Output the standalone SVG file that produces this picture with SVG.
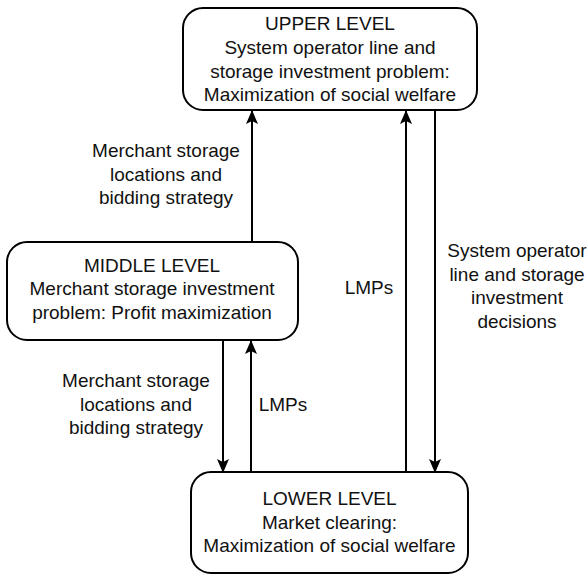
<svg xmlns="http://www.w3.org/2000/svg" width="588" height="575" viewBox="0 0 588 575">
<style>
.box{fill:#fff;stroke:#000;stroke-width:2}
.t{font-family:"Liberation Sans",Arial,sans-serif;font-size:19px;fill:#111;text-anchor:middle}
.c{stroke:#000;stroke-width:2;fill:none;marker-end:url(#ah)}
</style>
<defs>
<marker id="ah" viewBox="0 0 14 12" refX="13" refY="6" markerWidth="14" markerHeight="12" markerUnits="userSpaceOnUse" orient="auto">
<path d="M0,0 L14,6 L0,12 L3,6 Z" fill="#000"/>
</marker>
</defs>
<rect width="588" height="575" fill="#fff"/>
<g id="connectors">
<line class="c" x1="252" y1="242" x2="252" y2="111"/>
<line class="c" x1="406" y1="472" x2="406" y2="111"/>
<line class="c" x1="435" y1="110" x2="435" y2="472"/>
<line class="c" x1="223" y1="340" x2="223" y2="472"/>
<line class="c" x1="251" y1="472" x2="251" y2="341"/>
<text class="t" x="166"><tspan x="166" y="157">Merchant storage</tspan><tspan x="166" y="180.5">locations and</tspan><tspan x="166" y="204">bidding strategy</tspan></text>
<text class="t" x="369" y="294">LMPs</text>
<text class="t"><tspan x="517" y="257">System operator</tspan><tspan x="517" y="280.5">line and storage</tspan><tspan x="517" y="304">investment</tspan><tspan x="517" y="327.5">decisions</tspan></text>
<text class="t"><tspan x="136" y="387">Merchant storage</tspan><tspan x="136" y="410.5">locations and</tspan><tspan x="136" y="434">bidding strategy</tspan></text>
<text class="t" x="283" y="411">LMPs</text>
</g>
<g id="upper">
<rect class="box" x="183" y="8" width="294" height="102" rx="20"/>
<text class="t"><tspan x="330" y="30">UPPER LEVEL</tspan><tspan x="330" y="54">System operator line and</tspan><tspan x="330" y="77.5">storage investment problem:</tspan><tspan x="330" y="101">Maximization of social welfare</tspan></text>
</g>
<g id="middle">
<rect class="box" x="7" y="242" width="291" height="98" rx="20"/>
<text class="t"><tspan x="152" y="271.5">MIDDLE LEVEL</tspan><tspan x="152" y="295">Merchant storage investment</tspan><tspan x="152" y="318.5">problem: Profit maximization</tspan></text>
</g>
<g id="lower">
<rect class="box" x="191" y="472" width="277" height="101" rx="20"/>
<text class="t"><tspan x="329.5" y="505">LOWER LEVEL</tspan><tspan x="329.5" y="528.5">Market clearing:</tspan><tspan x="329.5" y="552">Maximization of social welfare</tspan></text>
</g>
</svg>
